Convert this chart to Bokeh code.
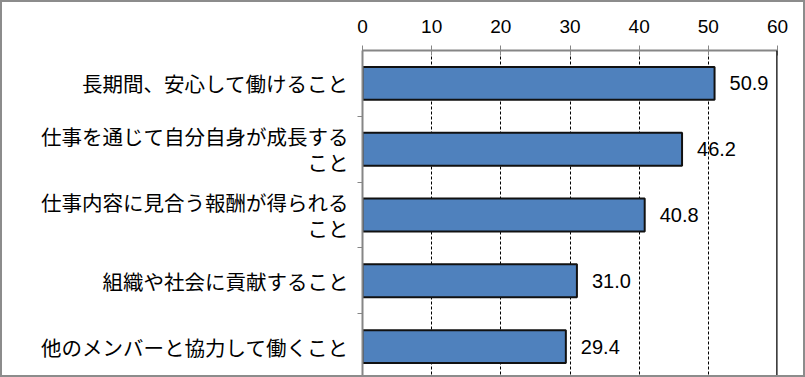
from bokeh.plotting import figure
from bokeh.models import FixedTicker, Span, ColumnDataSource
from bokeh.core.properties import value
from bokeh.embed import file_html
from bokeh.resources import INLINE

categories = [
    "長期間、安心して働けること",
    "仕事を通じて自分自身が成長する\nこと",
    "仕事内容に見合う報酬が得られる\nこと",
    "組織や社会に貢献すること",
    "他のメンバーと協力して働くこと",
]
values = [50.9, 46.2, 40.8, 31.0, 29.4]
x_ticks = [0, 10, 20, 30, 40, 50, 60]

n = len(categories)
ypos = [n - i - 0.5 for i in range(n)]
bounds = [float(i) for i in range(1, n)]

src = ColumnDataSource(dict(y=ypos, v=values, lab=[f"{v:.1f}" for v in values]))

p = figure(width=801, height=373, x_range=(0, 60), y_range=(0, n),
           x_axis_location="above", output_backend="svg", toolbar_location=None,
           min_border_left=360, min_border_right=30, min_border_top=48, min_border_bottom=0)
p.styles = {"border": "2px solid #8c8c8c", "box-sizing": "content-box"}
p.outline_line_color = None
p.background_fill_color = "white"

# x axis (top)
xa = p.xaxis[0]
xa.ticker = FixedTicker(ticks=x_ticks)
xa.axis_line_color = "#868686"
xa.axis_line_width = 2
xa.major_tick_line_color = "#868686"
xa.major_tick_line_width = 1
xa.major_tick_in = 5
xa.major_tick_out = 5
xa.minor_tick_line_color = None
xa.major_label_text_font = "Liberation Sans"
xa.major_label_text_font_size = "19px"
xa.major_label_text_color = "black"
xa.major_label_standoff = 13

# y axis (left)
ya = p.yaxis[0]
ya.ticker = FixedTicker(ticks=ypos, minor_ticks=bounds)
ya.major_label_overrides = {y: c for y, c in zip(ypos, categories)}
ya.axis_line_color = "#868686"
ya.axis_line_width = 2
ya.major_tick_line_color = None
ya.major_tick_in = 0
ya.major_tick_out = 0
ya.minor_tick_line_color = "#868686"
ya.minor_tick_line_width = 1
ya.minor_tick_in = 0
ya.minor_tick_out = 5
ya.major_label_text_font = "Noto Sans CJK JP"
ya.major_label_text_font_size = "20.5px"
ya.major_label_text_color = "black"
ya.major_label_text_line_height = 0.85
ya.major_label_standoff = 9
ya.major_label_text_align = "right"

p.xgrid.ticker = FixedTicker(ticks=[10, 20, 30, 40, 50])
p.xgrid.grid_line_color = "black"
p.xgrid.grid_line_dash = "3 2"
p.xgrid.grid_line_width = 1
p.ygrid.grid_line_color = None

p.add_layout(Span(location=60, dimension="height", line_color="black", line_width=2.5))

p.hbar(y="y", right="v", left=0, height=0.5, source=src,
       fill_color="#4F81BD", line_color="#111111", line_width=2)

p.text(x="v", y="y", text="lab", source=src, x_offset=15,
       text_align="left", text_baseline="middle",
       text_font=value("Liberation Sans"), text_font_size="20px", text_color="black")

open("out.html", "w").write(file_html(p, INLINE))
